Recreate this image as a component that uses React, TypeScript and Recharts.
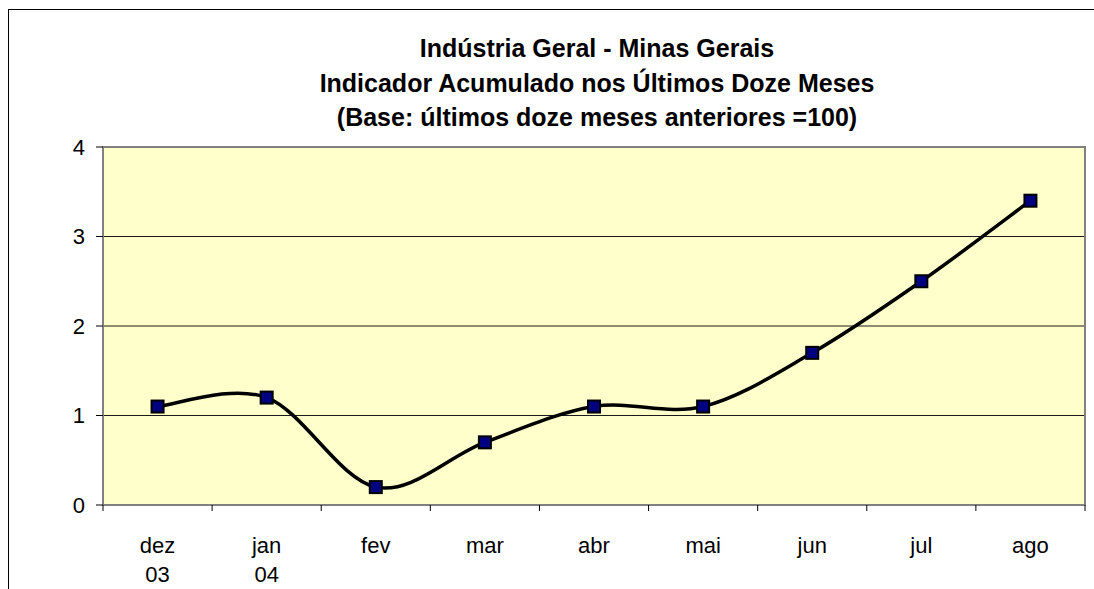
import { ComposedChart, Line, XAxis, YAxis, CartesianGrid, ReferenceArea } from 'recharts';

const months = ['dez', 'jan', 'fev', 'mar', 'abr', 'mai', 'jun', 'jul', 'ago'];
const years = ['03', '04', '', '', '', '', '', '', ''];
const indicator = [1.1, 1.2, 0.2, 0.7, 1.1, 1.1, 1.7, 2.5, 3.4];
const yTicks = [0, 1, 2, 3, 4];
const titleLines = [
  'Indústria Geral - Minas Gerais',
  'Indicador Acumulado nos Últimos Doze Meses',
  '(Base: últimos doze meses anteriores =100)',
];

const data = months.map((m, i) => ({ month: m, year: years[i], value: indicator[i] }));

const W = 1094;
const H = 589;
const PLOT_LEFT = 103;
const PLOT_RIGHT = 1085;
const HALF_BAND = (PLOT_RIGHT - PLOT_LEFT) / months.length / 2;
const FONT = '"Liberation Sans", Arial, sans-serif';

// Excel style smoothed line (cardinal spline through every point)
const excelSmooth = (context: any) => {
  let pts: number[][] = [];
  return {
    areaStart() {},
    areaEnd() {},
    lineStart() {
      pts = [];
    },
    point(x: number, y: number) {
      pts.push([+x, +y]);
    },
    lineEnd() {
      if (!pts.length) return;
      context.moveTo(pts[0][0], pts[0][1]);
      for (let i = 0; i < pts.length - 1; i++) {
        const p0 = pts[i - 1] || pts[i];
        const p1 = pts[i];
        const p2 = pts[i + 1];
        const p3 = pts[i + 2] || p2;
        context.bezierCurveTo(
          p1[0] + (p2[0] - p0[0]) / 6,
          p1[1] + (p2[1] - p0[1]) / 6,
          p2[0] - (p3[0] - p1[0]) / 6,
          p2[1] - (p3[1] - p1[1]) / 6,
          p2[0],
          p2[1]
        );
      }
    },
  };
};

const SquareDot = (props: any) => {
  const { cx, cy } = props;
  if (cx == null || cy == null) return null;
  return <rect x={cx - 6} y={cy - 6} width={12} height={12} fill="#000080" stroke="#000" strokeWidth={2} />;
};

const MonthTick = (props: any) => {
  const { x, y, payload, index } = props;
  const year = years[index];
  return (
    <g>
      <line x1={x - HALF_BAND} y1={y} x2={x - HALF_BAND} y2={y + 6} stroke="#000" />
      {index === months.length - 1 && (
        <line x1={x + HALF_BAND} y1={y} x2={x + HALF_BAND} y2={y + 6} stroke="#000" />
      )}
      <text x={x} y={y + 48} textAnchor="middle" fontSize={22} fontFamily={FONT} fill="#000">
        {payload.value}
      </text>
      {year && (
        <text x={x} y={y + 77} textAnchor="middle" fontSize={22} fontFamily={FONT} fill="#000">
          {year}
        </text>
      )}
    </g>
  );
};

export default function App() {
  return (
    <div style={{ position: 'fixed', left: 0, top: 0, width: W, height: H, overflow: 'hidden', background: '#fff' }}>
      <div
        style={{
          position: 'absolute',
          left: 8,
          top: 9,
          width: 1400,
          height: 900,
          borderLeft: '1px solid #000',
          borderTop: '1px solid #000',
        }}
      />
      <svg width={W} height={140} style={{ position: 'absolute', left: 0, top: 0 }}>
        {titleLines.map((t, i) => (
          <text
            key={t}
            x={597}
            y={57 + i * 34.5}
            textAnchor="middle"
            fontSize={25}
            fontWeight="bold"
            fontFamily={FONT}
            fill="#000"
          >
            {t}
          </text>
        ))}
      </svg>
      <div style={{ position: 'absolute', left: 0, top: 0 }}>
        <ComposedChart width={W} height={H} data={data} margin={{ top: 147, right: 9, bottom: 0, left: 43 }}>
          <CartesianGrid vertical={false} fill="#FFFFCC" stroke="#1a1a1a" strokeWidth={1} />
          <XAxis
            dataKey="month"
            scale="band"
            height={84}
            axisLine={{ stroke: '#808080', strokeWidth: 2 }}
            tickLine={false}
            tickSize={0}
            tickMargin={0}
            interval={0}
            tick={<MonthTick />}
          />
          <YAxis
            width={60}
            domain={[0, 4]}
            ticks={yTicks}
            axisLine={{ stroke: '#808080', strokeWidth: 2 }}
            tickLine={{ stroke: '#000' }}
            tickSize={7}
            tickMargin={11}
            tick={{ fontSize: 22, fontFamily: FONT, fill: '#000' }}
          />
          <ReferenceArea y1={0} y2={4} fill="none" stroke="#808080" strokeWidth={2} ifOverflow="visible" />
          <Line
            dataKey="value"
            type={excelSmooth as any}
            stroke="#000"
            strokeWidth={3.5}
            dot={<SquareDot />}
            activeDot={false}
            isAnimationActive={false}
          />
        </ComposedChart>
      </div>
    </div>
  );
}
